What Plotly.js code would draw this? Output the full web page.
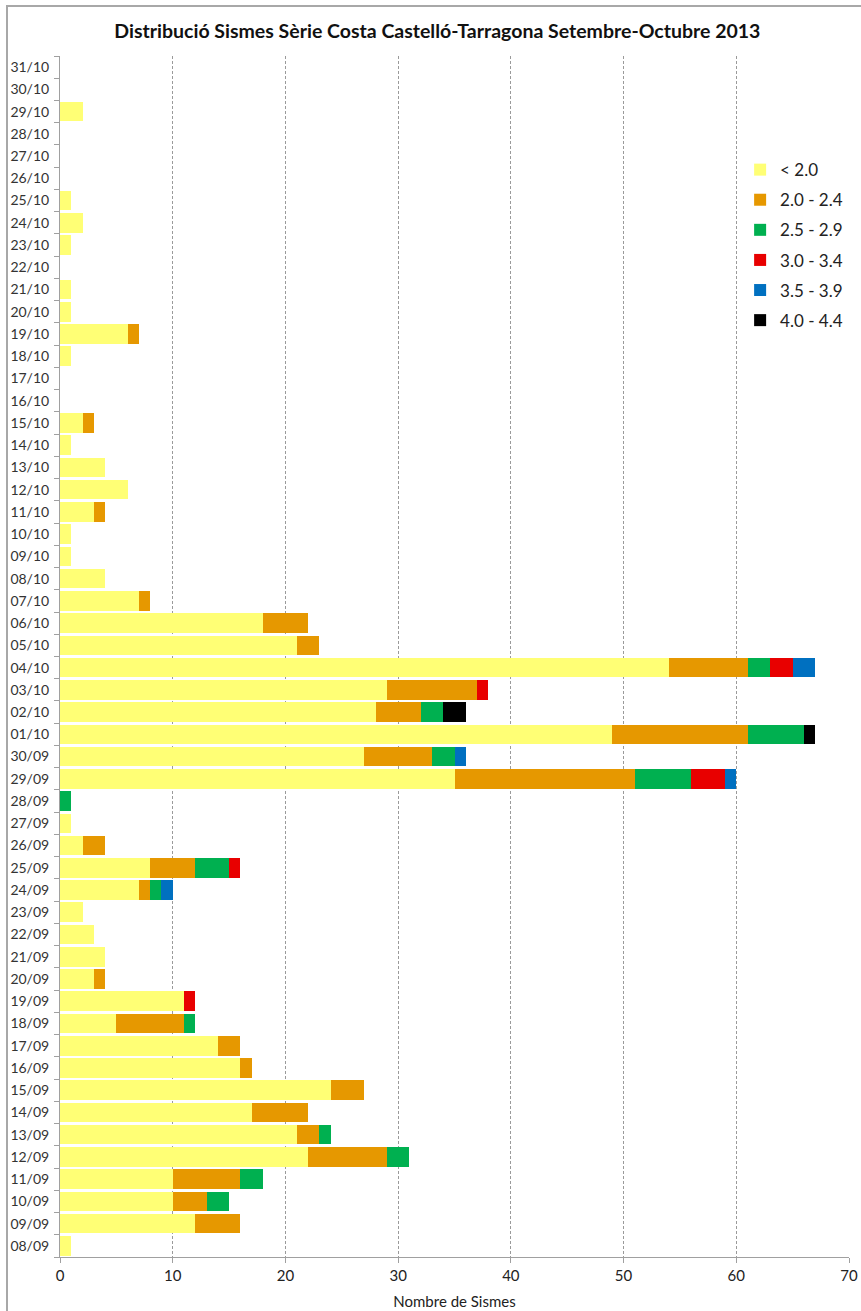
<!DOCTYPE html>
<html>
<head>
<meta charset="utf-8">
<script src="https://cdn.plot.ly/plotly-3.0.1.min.js"></script>
<style>
  html, body { margin: 0; padding: 0; background: #fff; }
  #wrap { position: relative; width: 861px; height: 1311px; overflow: hidden; }
  #chart { width: 861px; height: 1311px; }
  #frame { position: absolute; left: 6px; top: 5px; right: -10px; bottom: -10px;
           border-top: 2px solid #a8a8a8; border-left: 2px solid #a8a8a8; pointer-events: none; }
</style>
</head>
<body>
<div id="wrap">
  <div id="chart"></div>
  <div id="frame"></div>
</div>
<script>
const days = ["08/09","09/09","10/09","11/09","12/09","13/09","14/09","15/09","16/09","17/09",
  "18/09","19/09","20/09","21/09","22/09","23/09","24/09","25/09","26/09","27/09","28/09","29/09","30/09",
  "01/10","02/10","03/10","04/10","05/10","06/10","07/10","08/10","09/10","10/10","11/10","12/10","13/10",
  "14/10","15/10","16/10","17/10","18/10","19/10","20/10","21/10","22/10","23/10","24/10","25/10","26/10",
  "27/10","28/10","29/10","30/10","31/10"];

const mLt20 = [1,12,10,10,22,21,17,24,16,14,
  5,11,3,4,3,2,7,8,2,1,0,35,27,
  49,28,29,54,21,18,7,4,1,1,3,6,4,
  1,2,0,0,1,6,1,1,0,1,2,1,0,
  0,0,2,0,0];
const m20_24 = [0,4,3,6,7,2,5,3,1,2,
  6,0,1,0,0,0,1,4,2,0,0,16,6,
  12,4,8,7,2,4,1,0,0,0,1,0,0,
  0,1,0,0,0,1,0,0,0,0,0,0,0,
  0,0,0,0,0];
const m25_29 = [0,0,2,2,2,1,0,0,0,0,
  1,0,0,0,0,0,1,3,0,0,1,5,2,
  5,2,0,2,0,0,0,0,0,0,0,0,0,
  0,0,0,0,0,0,0,0,0,0,0,0,0,
  0,0,0,0,0];
const m30_34 = [0,0,0,0,0,0,0,0,0,0,
  0,1,0,0,0,0,0,1,0,0,0,3,0,
  0,0,1,2,0,0,0,0,0,0,0,0,0,
  0,0,0,0,0,0,0,0,0,0,0,0,0,
  0,0,0,0,0];
const m35_39 = [0,0,0,0,0,0,0,0,0,0,
  0,0,0,0,0,0,1,0,0,0,0,1,1,
  0,0,0,2,0,0,0,0,0,0,0,0,0,
  0,0,0,0,0,0,0,0,0,0,0,0,0,
  0,0,0,0,0];
const m40_44 = [0,0,0,0,0,0,0,0,0,0,
  0,0,0,0,0,0,0,0,0,0,0,0,0,
  1,2,0,0,0,0,0,0,0,0,0,0,0,
  0,0,0,0,0,0,0,0,0,0,0,0,0,
  0,0,0,0,0];

const seriesNames = ["< 2.0","2.0 - 2.4","2.5 - 2.9","3.0 - 3.4","3.5 - 3.9","4.0 - 4.4"];
const seriesValues = [mLt20, m20_24, m25_29, m30_34, m35_39, m40_44];
const seriesColors = ["#FFFF75","#E69800","#00B050","#E80000","#0070C0","#000000"];
const xTicks = [0,10,20,30,40,50,60,70];

const traces = seriesNames.map((n, i) => ({
  type: "bar",
  orientation: "h",
  name: n,
  legendgroup: n,
  y: days,
  x: seriesValues[i],
  marker: { color: seriesColors[i], line: { width: 0 } },
  hoverinfo: "x+y+name"
}));

const layout = {
  width: 861, height: 1311,
  paper_bgcolor: "#fff", plot_bgcolor: "#fff",
  font: { family: "Lato, 'Open Sans', sans-serif", color: "#222", size: 14 },
  margin: { l: 60, r: 12, t: 56, b: 54 },
  barmode: "stack",
  bargap: 0.12,
  title: {
    text: "<b>Distribució Sismes Sèrie Costa Castelló-Tarragona Setembre-Octubre 2013</b>",
    font: { size: 19.5, color: "#111" },
    xref: "container", x: 0.508, xanchor: "center",
    yref: "container", y: 1 - 31/1311, yanchor: "middle"
  },
  xaxis: {
    range: [0, 70],
    tickvals: xTicks,
    ticktext: xTicks.map(String),
    showgrid: true, gridcolor: "#9a9a9a", griddash: "3px,2px", gridwidth: 1,
    zeroline: false,
    showline: true, linecolor: "#a0a0a0", linewidth: 1,
    ticks: "outside", ticklen: 5, tickcolor: "#a0a0a0",
    tickfont: { size: 15, color: "#222" },
    title: { text: "Nombre de Sismes", font: { size: 15, color: "#222" }, standoff: 13 },
    fixedrange: true
  },
  yaxis: {
    type: "category",
    categoryorder: "array", categoryarray: days,
    showgrid: false, zeroline: false,
    showline: true, linecolor: "#a0a0a0", linewidth: 1,
    ticks: "outside", ticklen: 5, tickcolor: "#a0a0a0", tickson: "boundaries",
    ticklabelstandoff: 7,
    tickfont: { size: 14, color: "#333" },
    automargin: false,
    fixedrange: true
  },
  legend: {
    x: 0.862, xanchor: "left",
    y: 0.92, yanchor: "top",
    traceorder: "grouped",
    tracegroupgap: 5,
    bgcolor: "rgba(0,0,0,0)",
    font: { size: 17, color: "#222" },
    itemwidth: 30
  },
  showlegend: true
};

Plotly.newPlot("chart", traces, layout, { displayModeBar: false, staticPlot: true });
</script>
</body>
</html>
